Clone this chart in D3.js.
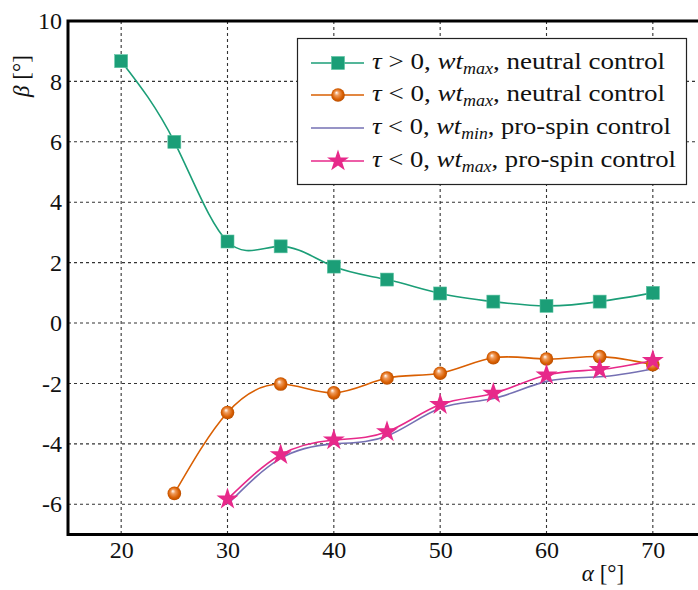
<!DOCTYPE html>
<html>
<head>
<meta charset="utf-8">
<script src="https://cdn.jsdelivr.net/npm/d3@7"></script>
<style>
  html, body { margin: 0; padding: 0; background: #fff; }
  svg { display: block; }
  text { font-family: "Liberation Serif", "DejaVu Serif", serif; fill: #111; }
</style>
</head>
<body>
<script>
// Sideslip angle β versus angle of attack α for four control configurations
const alphaPos = [20, 25, 30, 35, 40, 45, 50, 55, 60, 65, 70];
const betaPosMax = [8.67, 6.0, 2.70, 2.54, 1.87, 1.44, 0.98, 0.71, 0.57, 0.71, 1.0];

const alphaNeg = [25, 30, 35, 40, 45, 50, 55, 60, 65, 70];
const betaNegNeutral = [-5.64, -2.96, -2.02, -2.31, -1.82, -1.66, -1.15, -1.19, -1.11, -1.38];

const alphaSpin = [30, 35, 40, 45, 50, 55, 60, 65, 70];
const betaSpinMin = [-6.0, -4.48, -4.0, -3.74, -2.82, -2.50, -1.93, -1.78, -1.52];
const betaSpinMax = [-5.83, -4.36, -3.87, -3.60, -2.70, -2.33, -1.72, -1.54, -1.24];

const xTicks = [20, 30, 40, 50, 60, 70];
const yTicks = [-6, -4, -2, 0, 2, 4, 6, 8, 10];

const colors = { green: "#1b9e77", orange: "#d95f02", purple: "#7570b3", pink: "#e7298a" };

const W = 698, H = 590;
const svg = d3.select("body").append("svg").attr("width", W).attr("height", H);

const x = d3.scaleLinear().domain([15, 75]).range([68, 706]);
const y = d3.scaleLinear().domain([-7, 10]).range([534.5, 21]);

const defs = svg.append("defs");
const grad = defs.append("radialGradient").attr("id", "ball")
  .attr("cx", "50%").attr("cy", "50%").attr("r", "55%")
  .attr("fx", "38%").attr("fy", "32%");
grad.append("stop").attr("offset", "0%").attr("stop-color", "#ffffff");
grad.append("stop").attr("offset", "30%").attr("stop-color", "#ef9a5a");
grad.append("stop").attr("offset", "70%").attr("stop-color", "#d95f02");
grad.append("stop").attr("offset", "100%").attr("stop-color", "#b04a00");

// grid
const grid = svg.append("g").attr("stroke", "#333").attr("stroke-width", 1.1)
  .attr("stroke-dasharray", "3,3");
xTicks.forEach(t => grid.append("line")
  .attr("x1", x(t)).attr("x2", x(t)).attr("y1", y(10)).attr("y2", y(-7)));
yTicks.filter(t => t < 10).forEach(t => grid.append("line")
  .attr("x1", x(15)).attr("x2", W).attr("y1", y(t)).attr("y2", y(t)));

// axes frame
const frame = svg.append("g").attr("stroke", "#000").attr("stroke-width", 3).attr("fill", "none");
frame.append("path").attr("d", `M${W},${y(10)}H${x(15)}V${y(-7)}H${W}`);

// tick labels via d3 axes with hidden lines
const xAxis = svg.append("g").attr("transform", `translate(0,${y(-7)})`)
  .call(d3.axisBottom(x).tickValues(xTicks).tickSize(0).tickPadding(6).tickFormat(d3.format("d")));
const yAxis = svg.append("g").attr("transform", `translate(${x(15)},0)`)
  .call(d3.axisLeft(y).tickValues(yTicks).tickSize(0).tickPadding(6)
    .tickFormat(d => d < 0 ? "-" + Math.abs(d) : String(d)));
[xAxis, yAxis].forEach(a => {
  a.select(".domain").remove();
  a.selectAll("text").attr("font-family", "Liberation Serif, DejaVu Serif, serif")
    .attr("font-size", 24).attr("fill", "#111");
});

// axis titles
svg.append("text").attr("x", 603).attr("y", 581).attr("text-anchor", "middle")
  .attr("font-size", 23)
  .call(t => { t.append("tspan").attr("font-style", "italic").text("α"); t.append("tspan").text(" [°]"); });
svg.append("text").attr("transform", `translate(29,76) rotate(-90)`).attr("text-anchor", "middle")
  .attr("font-size", 23)
  .call(t => { t.append("tspan").attr("font-style", "italic").text("β"); t.append("tspan").text(" [°]"); });

const line = d3.line().curve(d3.curveNatural).x(d => x(d[0])).y(d => y(d[1]));
const zip = (a, b) => a.map((v, i) => [v, b[i]]);

const plot = svg.append("g");
const series = [
  { xs: alphaPos, ys: betaPosMax, color: colors.green, marker: "square" },
  { xs: alphaNeg, ys: betaNegNeutral, color: colors.orange, marker: "ball" },
  { xs: alphaSpin, ys: betaSpinMin, color: colors.purple, marker: null },
  { xs: alphaSpin, ys: betaSpinMax, color: colors.pink, marker: "star" }
];

const star = d3.symbol().type(d3.symbolStar).size(150);

function drawMarker(g, kind, cx, cy, color) {
  if (kind === "square") {
    g.append("rect").attr("x", cx - 6.5).attr("y", cy - 6.5).attr("width", 13).attr("height", 13)
      .attr("fill", color).attr("stroke", "#5cc3a2").attr("stroke-width", 0.6);
  } else if (kind === "ball") {
    g.append("circle").attr("cx", cx).attr("cy", cy).attr("r", 6.8).attr("fill", "url(#ball)");
  } else if (kind === "star") {
    g.append("path").attr("d", star()).attr("transform", `translate(${cx},${cy})`).attr("fill", color);
  }
}

series.forEach(s => {
  const pts = zip(s.xs, s.ys);
  plot.append("path").datum(pts).attr("d", line).attr("fill", "none")
    .attr("stroke", s.color).attr("stroke-width", 1.6);
});
series.forEach(s => {
  if (!s.marker) return;
  zip(s.xs, s.ys).forEach(p => drawMarker(plot, s.marker, x(p[0]), y(p[1]), s.color));
});

// legend
const legendLabels = [
  { op: " > 0, ", sub: "max", rest: ", neutral control", width: 293 },
  { op: " < 0, ", sub: "max", rest: ", neutral control", width: 293 },
  { op: " < 0, ", sub: "min", rest: ", pro-spin control", width: 299 },
  { op: " < 0, ", sub: "max", rest: ", pro-spin control", width: 304 }
];
const lg = svg.append("g");
lg.append("rect").attr("x", 297.5).attr("y", 38.5).attr("width", 389).attr("height", 146)
  .attr("fill", "#fff").attr("stroke", "#222").attr("stroke-width", 1.2);
const rowY = [63, 95, 128, 161];
series.forEach((s, i) => {
  const ry = rowY[i];
  lg.append("line").attr("x1", 311).attr("x2", 364).attr("y1", ry).attr("y2", ry)
    .attr("stroke", s.color).attr("stroke-width", 1.6);
  if (s.marker) drawMarker(lg, s.marker, 338, ry, s.color);
  const L = legendLabels[i];
  const t = lg.append("text").attr("x", 372).attr("y", ry + 6).attr("font-size", 24)
    .attr("textLength", L.width).attr("lengthAdjust", "spacingAndGlyphs");
  t.append("tspan").attr("font-style", "italic").text("τ");
  t.append("tspan").text(L.op);
  t.append("tspan").attr("font-style", "italic").text("wt");
  t.append("tspan").attr("font-style", "italic").attr("font-size", 16).attr("dy", 5).text(L.sub);
  t.append("tspan").attr("dy", -5).text(L.rest);
});
</script>
</body>
</html>
